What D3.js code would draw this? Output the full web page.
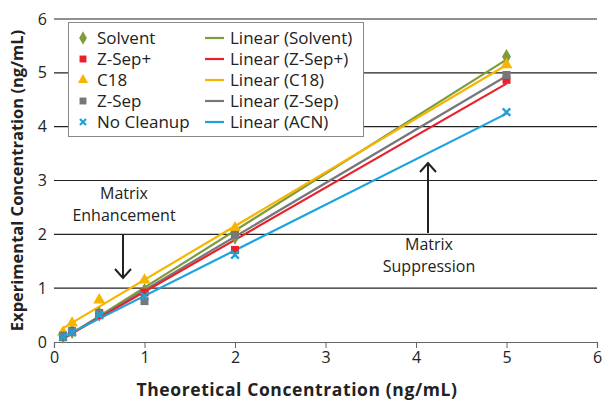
<!DOCTYPE html>
<html>
<head>
<meta charset="utf-8">
<script src="https://cdn.jsdelivr.net/npm/d3@7"></script>
<style>
  html, body { margin: 0; padding: 0; background: #fff; }
  svg { display: block; font-family: "Open Sans", "DejaVu Sans", sans-serif; }
</style>
</head>
<body>
<svg id="chart" width="602" height="400"></svg>
<script>
// Spiked concentrations (ng/mL)
const theoretical = [0.1, 0.2, 0.5, 1, 2, 5];

// Measured concentrations per cleanup method
const solvent    = [0.11, 0.20, 0.52, 0.95, 1.95, 5.30];
const zSepPlus   = [0.10, 0.20, 0.50, 0.92, 1.71, 4.87];
const c18        = [0.18, 0.35, 0.78, 1.15, 2.12, 5.15];
const zSep       = [0.12, 0.19, 0.54, 0.76, 1.99, 4.96];
const noCleanup  = [0.09, 0.18, 0.50, 0.85, 1.62, 4.27];

const seriesNames = ["Solvent", "Z-Sep+", "C18", "Z-Sep", "No Cleanup"];
const trendNames  = ["Linear (Solvent)", "Linear (Z-Sep+)", "Linear (C18)", "Linear (Z-Sep)", "Linear (ACN)"];
const xTicks = [0, 1, 2, 3, 4, 5, 6];
const yTicks = [0, 1, 2, 3, 4, 5, 6];

const series = [
  { name: seriesNames[0], trend: trendNames[0], values: solvent,   color: "#7f9c3c", symbol: "diamond" },
  { name: seriesNames[1], trend: trendNames[1], values: zSepPlus,  color: "#e8212b", symbol: "square" },
  { name: seriesNames[2], trend: trendNames[2], values: c18,       color: "#f7b500", symbol: "triangle" },
  { name: seriesNames[3], trend: trendNames[3], values: zSep,      color: "#77777a", symbol: "square" },
  { name: seriesNames[4], trend: trendNames[4], values: noCleanup, color: "#1ca3dc", symbol: "cross" }
];

const svg = d3.select("#chart");
const x = d3.scaleLinear().domain([0, 6]).range([54, 597]);
const y = d3.scaleLinear().domain([0, 6]).range([342, 19]);

// Horizontal gridlines
svg.append("g")
  .selectAll("line")
  .data(yTicks.filter(d => d > 0))
  .join("line")
  .attr("x1", x(0)).attr("x2", x(6))
  .attr("y1", d => y(d)).attr("y2", d => y(d))
  .attr("stroke", "#222").attr("stroke-width", 1.1);

// X axis
const xAxis = svg.append("g")
  .attr("transform", `translate(0,${y(0)})`)
  .call(d3.axisBottom(x).tickValues(xTicks).tickSize(6).tickPadding(4).tickFormat(d3.format("d")));
xAxis.select(".domain").attr("stroke", "#666").attr("stroke-width", 1.2);
xAxis.selectAll(".tick line").attr("stroke", "#666");
xAxis.selectAll(".tick text").attr("font-size", 16).attr("fill", "#222")
  .attr("font-family", "\"Open Sans\", sans-serif");

// Y axis labels (no axis line)
svg.append("g")
  .selectAll("text")
  .data(yTicks)
  .join("text")
  .attr("x", 47).attr("y", d => y(d))
  .attr("dy", "0.35em")
  .attr("text-anchor", "end")
  .attr("font-size", 16).attr("fill", "#222")
  .text(d => d);

// Axis titles
svg.append("text")
  .attr("x", 297).attr("y", 396)
  .attr("text-anchor", "middle")
  .attr("font-size", 17.5).attr("font-weight", "bold").attr("fill", "#222")
  .attr("letter-spacing", 0.6)
  .text("Theoretical Concentration (ng/mL)");

svg.append("text")
  .attr("transform", `translate(23,${y(3)}) rotate(-90)`)
  .attr("text-anchor", "middle")
  .attr("font-size", 16.5).attr("font-weight", "bold").attr("fill", "#222")
  .text("Experimental Concentration (ng/mL)");

// Least-squares trendlines over the measured range
function fit(xs, ys) {
  const mx = d3.mean(xs), my = d3.mean(ys);
  const num = d3.sum(xs, (v, i) => (v - mx) * (ys[i] - my));
  const den = d3.sum(xs, v => (v - mx) ** 2);
  const m = num / den;
  return { m, b: my - m * mx };
}
const xMin = d3.min(theoretical), xMax = d3.max(theoretical);
const trendOrder = [0, 2, 3, 1, 4];
svg.append("g")
  .selectAll("line")
  .data(trendOrder.map(i => series[i]))
  .join("line")
  .each(function(s) {
    const f = fit(theoretical, s.values);
    d3.select(this)
      .attr("x1", x(xMin)).attr("y1", y(f.m * xMin + f.b))
      .attr("x2", x(xMax)).attr("y2", y(f.m * xMax + f.b));
  })
  .attr("stroke", d => d.color)
  .attr("stroke-width", 2.2);

// Marker shapes
const symbolMap = {
  diamond: d3.symbolDiamond,
  square: d3.symbolSquare,
  triangle: d3.symbolTriangle,
  cross: d3.symbolX
};
function drawMarker(sel, s) {
  if (s.symbol === "cross") {
    sel.append("path")
      .attr("d", d3.symbol(symbolMap.cross, 40)())
      .attr("fill", "none").attr("stroke", s.color).attr("stroke-width", 2.4);
  } else {
    const size = s.symbol === "diamond" ? 70 : s.symbol === "triangle" ? 62 : 64;
    sel.append("path")
      .attr("d", d3.symbol(symbolMap[s.symbol], size)())
      .attr("fill", s.color);
  }
}

// Data markers, last series on top
const markerOrder = [0, 2, 1, 3, 4];
markerOrder.forEach(i => {
  const s = series[i];
  const g = svg.append("g");
  theoretical.forEach((t, j) => {
    const m = g.append("g").attr("transform", `translate(${x(t)},${y(s.values[j])})`);
    drawMarker(m, s);
  });
});

// Legend
const legend = svg.append("g");
legend.append("rect")
  .attr("x", 68.5).attr("y", 22.5).attr("width", 295).attr("height", 114)
  .attr("fill", "#fff").attr("stroke", "#888").attr("stroke-width", 1);
series.forEach((s, i) => {
  const cy = 38 + i * 21;
  const m = legend.append("g").attr("transform", `translate(83,${cy})`);
  if (s.symbol === "cross") {
    m.append("path").attr("d", d3.symbol(symbolMap.cross, 26)())
      .attr("fill", "none").attr("stroke", s.color).attr("stroke-width", 2.2);
  } else {
    const size = s.symbol === "diamond" ? 52 : s.symbol === "triangle" ? 46 : 48;
    m.append("path").attr("d", d3.symbol(symbolMap[s.symbol], size)()).attr("fill", s.color);
  }
  legend.append("text")
    .attr("x", 97).attr("y", cy).attr("dy", "0.36em")
    .attr("font-size", 17).attr("fill", "#222")
    .text(s.name);
  legend.append("line")
    .attr("x1", 205).attr("x2", 224).attr("y1", cy).attr("y2", cy)
    .attr("stroke", s.color).attr("stroke-width", 2.2);
  legend.append("text")
    .attr("x", 230).attr("y", cy).attr("dy", "0.36em")
    .attr("font-size", 17).attr("fill", "#222")
    .text(s.trend);
});

// Annotations
function arrow(xv, yFrom, yTo) {
  const g = svg.append("g").attr("stroke", "#222").attr("stroke-width", 2).attr("fill", "none");
  g.append("line").attr("x1", xv).attr("x2", xv).attr("y1", yFrom).attr("y2", yTo);
  const dir = yTo > yFrom ? -1 : 1;
  g.append("path").attr("d", `M${xv - 8},${yTo + dir * 9}L${xv},${yTo}L${xv + 8},${yTo + dir * 9}`);
}
function note(xv, yv, lines) {
  lines.forEach((t, i) => {
    svg.append("text")
      .attr("x", xv).attr("y", yv + i * 22)
      .attr("text-anchor", "middle")
      .attr("font-size", 16).attr("fill", "#222")
      .text(t);
  });
}
note(124, 199, ["Matrix", "Enhancement"]);
arrow(123, 234, 278);
note(429, 250, ["Matrix", "Suppression"]);
arrow(428, 233, 163);
</script>
</body>
</html>
